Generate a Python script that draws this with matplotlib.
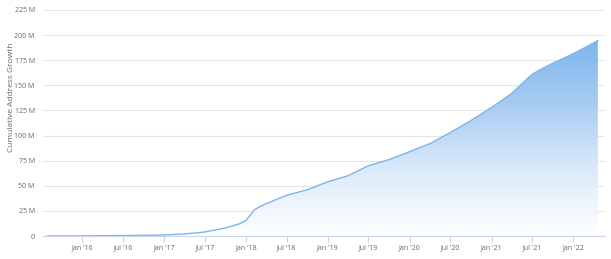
import numpy as np
import pandas as pd
import matplotlib
matplotlib.use('Agg')
import matplotlib.pyplot as plt
import matplotlib.dates as mdates
from matplotlib.ticker import FuncFormatter

# ── Data (millions of addresses) ─────────────────────────────────────────────
dates = pd.to_datetime([
    '2015-07-30', '2015-10-01', '2016-01-01', '2016-04-01', '2016-07-01',
    '2016-10-01', '2017-01-01', '2017-04-01', '2017-07-01', '2017-10-01',
    '2017-12-01', '2018-01-01', '2018-01-20', '2018-02-10', '2018-03-10',
    '2018-05-01', '2018-07-01', '2018-10-01', '2019-01-01', '2019-04-01',
    '2019-07-01', '2019-10-01', '2020-01-01', '2020-04-01', '2020-07-01',
    '2020-10-01', '2021-01-01', '2021-04-01', '2021-06-01', '2021-07-01',
    '2021-08-01', '2021-10-01', '2022-01-01', '2022-04-20',
])
addresses = np.array([
    0.0, 0.05, 0.1, 0.3, 0.5,
    0.7, 1.0, 2.0, 4.0, 8.0,
    12.0, 15.5, 21.0, 26.5, 30.0,
    35.0, 40.5, 46.0, 54.0, 60.0,
    70.0, 76.0, 84.0, 92.0, 103.0,
    115.0, 128.0, 142.0, 155.0, 161.0,
    165.0, 172.0, 181.5, 194.5,
]) * 1e6

y_ticks = np.arange(0, 226e6, 25e6)
x_ticks = pd.to_datetime(['2016-01-01', '2016-07-01', '2017-01-01', '2017-07-01',
                          '2018-01-01', '2018-07-01', '2019-01-01', '2019-07-01',
                          '2020-01-01', '2020-07-01', '2021-01-01', '2021-07-01',
                          '2022-01-01'])

LINE = '#7cb5ec'
TEXT = '#666666'

plt.rcParams['font.family'] = ['Open Sans', 'DejaVu Sans']

fig = plt.figure(figsize=(6.11, 2.59), dpi=100)
ax = fig.add_axes([0.0704, 0.0888, 0.9198, 0.8726])

x = mdates.date2num(dates)
xmin = mdates.date2num(pd.Timestamp('2015-07-10'))
xmax = mdates.date2num(pd.Timestamp('2022-05-22'))
ymax = 225e6

# gradient fill clipped to the area under the curve
poly = ax.fill_between(x, 0, addresses, color='none', lw=0)
grad = np.linspace(0, 1, 256).reshape(-1, 1)
cmap = matplotlib.colors.LinearSegmentedColormap.from_list(
    'g', ['#ffffff', '#dceafa', '#a9cdf2', '#7cb5ec'])
img = ax.imshow(grad, extent=[x[0], x[-1], 0, addresses.max()], origin='lower',
                aspect='auto', cmap=cmap, zorder=1)
img.set_clip_path(poly.get_paths()[0], transform=ax.transData)
ax.plot(x, addresses, color=LINE, lw=1, zorder=2)

ax.set_xlim(xmin, xmax)
ax.set_ylim(0, ymax)

ax.set_yticks(y_ticks)
ax.yaxis.set_major_formatter(FuncFormatter(lambda v, p: '0' if v == 0 else f'{v/1e6:.0f} M'))
ax.set_xticks(mdates.date2num(x_ticks))
ax.set_xticklabels([d.strftime("%b '%y") for d in x_ticks])

ax.grid(axis='y', color='#e6e6e6', lw=0.8, zorder=0)
ax.set_axisbelow(True)
for s in ['top', 'right', 'left']:
    ax.spines[s].set_visible(False)
ax.spines['bottom'].set_color('#ccd6eb')
ax.spines['bottom'].set_linewidth(0.8)
ax.spines['bottom'].set_zorder(3)

ax.tick_params(axis='y', length=0, pad=6, labelsize=5, labelcolor=TEXT)
ax.tick_params(axis='x', length=4, width=0.8, color='#ccd6eb', pad=2,
               labelsize=5, labelcolor=TEXT)

fig.text(12 / 611, 1 - 97 / 259, 'Cumulative Address Growth', rotation=90,
         ha='center', va='center', fontsize=6, color=TEXT)

fig.savefig('out.png', dpi=100)
